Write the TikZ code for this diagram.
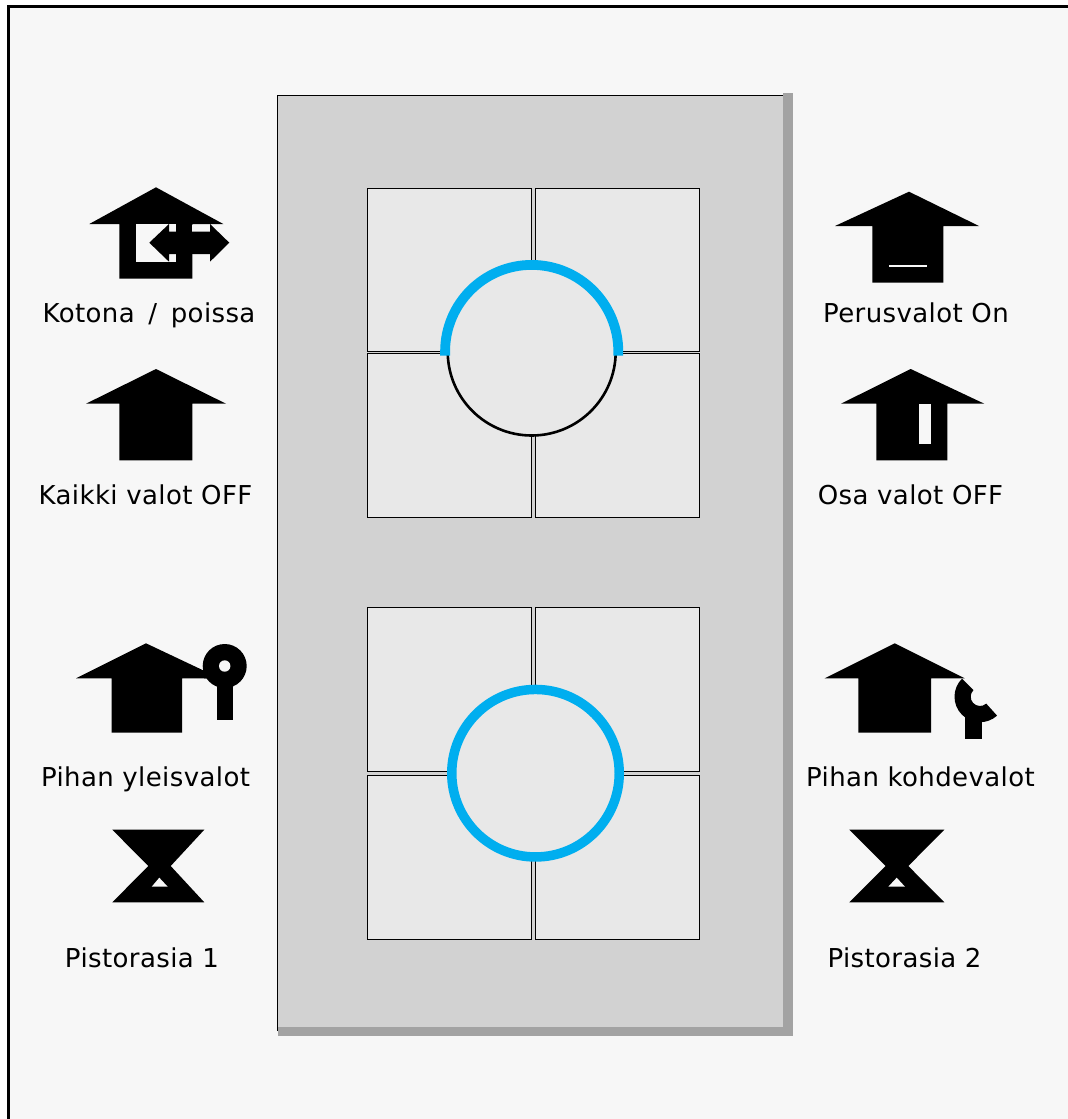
\documentclass[tikz,border=0pt]{standalone}
\usepackage{fontspec}
\usetikzlibrary{calc}
\setmainfont[LetterSpace=1.5]{DejaVu Sans}
\definecolor{pagebg}{HTML}{F7F7F7}
\definecolor{panel}{HTML}{D2D2D2}
\definecolor{panelshadow}{HTML}{A3A3A3}
\definecolor{btn}{HTML}{E8E8E8}
\definecolor{ledblue}{HTML}{00AEEF}
\tikzset{
  lbl/.style={anchor=base,inner sep=0pt,text=black,font=\fontsize{26}{30}\selectfont},
  btnbox/.style={fill=btn,draw=black,line width=0.9pt,outer sep=0pt,inner sep=0pt,anchor=north west},
  ink/.style={fill=black,draw=none},
  hole/.style={fill=pagebg,draw=none}
}
\begin{document}
\begin{tikzpicture}[x=1pt,y=1pt]
\useasboundingbox (0,0) rectangle (1068,-1119);
\fill[white] (0,0) rectangle (1068,-1119);
\fill[black] (7,-5) rectangle (1068,-1119);
\fill[pagebg] (10,-8) rectangle (1068,-1119);
% panel
\fill[panelshadow] (783,-93.3) rectangle (792.5,-1036);
\fill[panelshadow] (277.5,-1027) rectangle (792.5,-1036);
\fill[panel] (277.5,-95.5) rectangle (783,-1027);
\draw[black,line width=0.9pt] (277.5,-1031) -- (277.5,-95.5) -- (783,-95.5);
% top group
\node[btnbox,minimum width=164pt,minimum height=163pt] (ta) at (367.5,-188) {};
\node[btnbox,minimum width=164pt,minimum height=163pt] (tb) at (535.3,-188) {};
\node[btnbox,minimum width=164pt,minimum height=163.5pt] (tc) at (367.5,-353.8) {};
\node[btnbox,minimum width=164pt,minimum height=163.5pt] (td) at (535.3,-353.8) {};
\fill[btn] (531.7,-351.5) circle (84);
\draw[black,line width=2.6pt] (447.7,-351.5) arc (180:360:84);
\fill[ledblue] (440.2,-355.7) -- (440.2,-351.5) arc (180:0:91.5) -- (623.2,-355.7) -- (613.4,-355.7) -- (613.4,-351.5) arc (0:180:81.7) -- (450,-355.7) -- cycle;
% bottom group
\node[btnbox,minimum width=164pt,minimum height=164pt] (ba) at (367.5,-607.5) {};
\node[btnbox,minimum width=164pt,minimum height=164pt] (bb) at (535.3,-607.5) {};
\node[btnbox,minimum width=164pt,minimum height=164pt] (bc) at (367.5,-775) {};
\node[btnbox,minimum width=164pt,minimum height=164pt] (bd) at (535.3,-775) {};
\fill[btn] (535.5,-773.2) circle (84);
\draw[ledblue,line width=9.5pt] (535.5,-773.2) circle (83.75);
% icon 1 Kotona/poissa
\fill[ink] (156,-187.3) -- (223.3,-224) -- (192.3,-224) -- (192.3,-278.7) -- (119.3,-278.7) -- (119.3,-224) -- (89.3,-224) -- cycle;
\fill[hole] (136,-224) rectangle (176.3,-262.3);
\fill[hole] (192.3,-224.8) rectangle (210,-231.7);
\fill[ink] (149.3,-242.7) -- (169,-224) -- (169,-231.7) -- (210,-231.7) -- (210,-224) -- (229.3,-242.7) -- (210,-261.7) -- (210,-254) -- (169,-254) -- (169,-261.7) -- cycle;
\fill[ink] (176.3,-224) rectangle (192.3,-262.3);
% icon 2 Kaikki
\fill[ink] (156,-369) -- (226,-403.7) -- (192.3,-403.7) -- (192.3,-460.3) -- (119.3,-460.3) -- (119.3,-403.7) -- (86,-403.7) -- cycle;
% icon 3 Perusvalot
\fill[ink] (909,-191.7) -- (979,-226) -- (943.3,-226) -- (943.3,-282.7) -- (872.3,-282.7) -- (872.3,-226) -- (835,-226) -- cycle;
\fill[hole] (889,-265) rectangle (927,-266.7);
% icon 4 Osa valot
\fill[ink] (910.7,-369) -- (984.3,-403.7) -- (947.3,-403.7) -- (947.3,-460.3) -- (876.3,-460.3) -- (876.3,-403.7) -- (841,-403.7) -- cycle;
\fill[hole] (919,-404.3) rectangle (931,-444.3);
% icon 5 Pihan yleisvalot
\fill[ink] (146,-643.3) -- (206.7,-672) -- (206.7,-678.3) -- (182,-678.3) -- (182,-732.7) -- (111.7,-732.7) -- (111.7,-678.3) -- (76,-678.3) -- cycle;
\fill[ink] (216.7,-680) rectangle (232.7,-720.3);
\fill[ink] (224.7,-666) circle (22);
\fill[ink] (204,-678.3) -- (212,-678.3) -- (216,-685) -- (206,-670) -- cycle;
\fill[hole] (224.7,-666) circle (5.7);
% icon 6 Pihan kohdevalot
\fill[ink] (894.7,-643.3) -- (964.7,-678.3) -- (931,-678.3) -- (931,-732.7) -- (858.3,-732.7) -- (858.3,-678.3) -- (824.7,-678.3) -- cycle;
\fill[ink] (965.3,-712) rectangle (982,-738.7);
\fill[ink] (980,-696.7) ++(135:25.5) arc (135:312:25.5) -- ($(980,-696.7)+(312:9.3)$) arc (312:135:9.3) -- cycle;
% hourglasses
\fill[ink] (112.3,-829.7) -- (204.3,-829.7) -- (170.7,-866) -- (204.3,-902.3) -- (112.3,-902.3) -- (148.3,-866) -- cycle;
\fill[hole] (159.3,-877.7) -- (167.7,-886.7) -- (151.7,-886.7) -- cycle;
\fill[ink] (849.3,-829.7) -- (944.3,-829.7) -- (908.3,-866) -- (944.3,-902.3) -- (849.3,-902.3) -- (885.7,-866) -- cycle;
\fill[hole] (896.7,-877.7) -- (905,-886.7) -- (888.3,-886.7) -- cycle;
% labels
\node[lbl] (l1) at (149,-322) {Kotona\hspace{5pt} / \hspace{5pt}poissa};
\node[lbl] (l2) at (145.5,-504) {Kaikki valot OFF};
\node[lbl] (l3) at (145.5,-786) {Pihan yleisvalot};
\node[lbl] (l4) at (142,-967) {Pistorasia 1};
\node[lbl] (r1) at (916,-322) {Perusvalot On};
\node[lbl] (r2) at (910.5,-504) {Osa valot OFF};
\node[lbl] (r3) at (920.5,-786) {Pihan kohdevalot};
\node[lbl] (r4) at (904.5,-967) {Pistorasia 2};
\end{tikzpicture}
\end{document}
